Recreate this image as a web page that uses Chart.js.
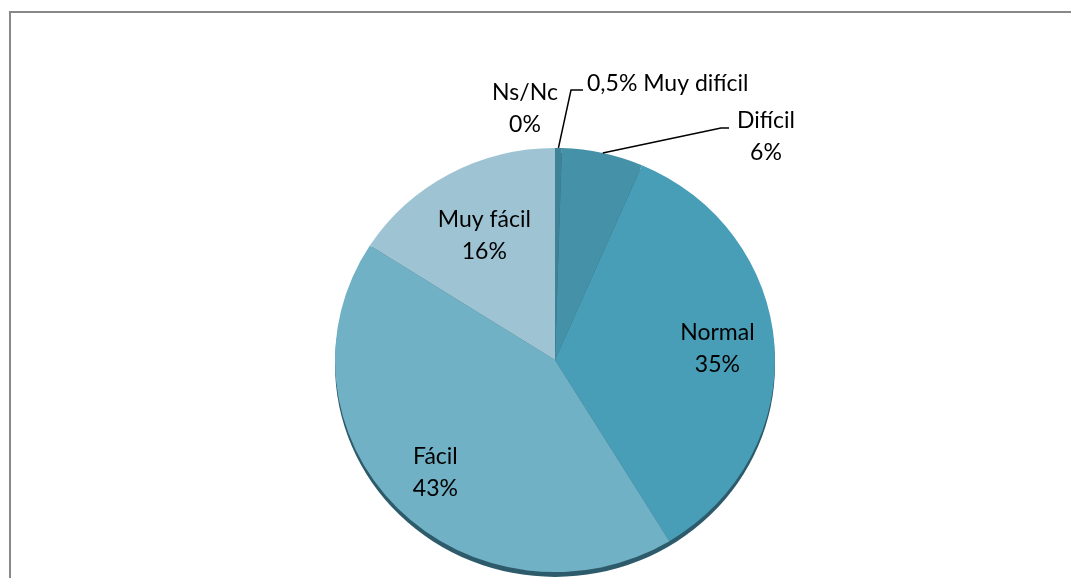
<!DOCTYPE html>
<html>
<head>
<meta charset="utf-8">
<script src="https://cdn.jsdelivr.net/npm/chart.js@4.4.1/dist/chart.umd.min.js"></script>
<style>
  html, body { margin: 0; padding: 0; background: #fff; overflow: hidden; }
  #wrap { position: relative; width: 1071px; height: 578px; overflow: hidden; }
  #frame {
    position: absolute; left: 9px; top: 11px; width: 1100px; height: 600px;
    border-left: 2px solid #888; border-top: 2px solid #888;
  }
  #myChart { position: absolute; left: 0; top: 0; }
</style>
</head>
<body>
<div id="wrap">
  <div id="frame"></div>
  <canvas id="myChart" width="1071" height="600"></canvas>
</div>
<script>
// respuestas, en orden horario desde arriba
const categorias = ['Muy difícil', 'Difícil', 'Normal', 'Fácil', 'Muy fácil', 'Ns/Nc'];
const porcentajes = [0.5, 6, 35, 43, 16, 0];
const etiquetas = ['0,5%', '6%', '35%', '43%', '16%', '0%'];
const colores = ['#3e8298', '#4591a8', '#489db7', '#71b1c6', '#9ec4d3', '#9ec4d3'];

// la tarta se ve un poco aplastada
const aplastado = 0.964;
const fuente = '23px Lato';

// donde va cada etiqueta: dentro (fraccion del radio) o fuera con linea guia
const posEtiquetas = [
  { tipo: 'linea', codo: [571, 90], fin: [583, 90], texto: [587, 84], alinear: 'left', unaLinea: true },
  { tipo: 'linea', codo: [721, 128], fin: [729, 128], texto: [766, 121], alinear: 'center' },
  { tipo: 'dentro', r: 0.74 },
  { tipo: 'dentro', r: 0.76 },
  { tipo: 'dentro', r: 0.67 },
  { tipo: 'fuera', texto: [525, 93] }
];

const ySquash = (cy, y) => cy + (y - cy) * aplastado;

const tartaPlugin = {
  id: 'tarta',
  beforeDatasetsDraw(chart) {
    const ctx = chart.ctx;
    const arc = chart.getDatasetMeta(0).data[0];
    ctx.save();
    ctx.translate(0, arc.y);
    ctx.scale(1, aplastado);
    ctx.translate(0, -arc.y);
    // borde oscuro por debajo
    ctx.fillStyle = '#2d5b6b';
    ctx.beginPath();
    ctx.arc(arc.x, arc.y + 5, arc.outerRadius, 0, Math.PI * 2);
    ctx.fill();
  },
  afterDatasetsDraw(chart) {
    chart.ctx.restore();
  },
  afterDraw(chart) {
    const ctx = chart.ctx;
    const arcs = chart.getDatasetMeta(0).data;
    ctx.save();
    ctx.font = fuente;
    ctx.fillStyle = '#000';
    ctx.textBaseline = 'middle';
    arcs.forEach((a, i) => {
      const p = posEtiquetas[i];
      const mid = (a.startAngle + a.endAngle) / 2;
      if (p.tipo === 'dentro') {
        const x = a.x + Math.cos(mid) * a.outerRadius * p.r;
        const y = ySquash(a.y, a.y + Math.sin(mid) * a.outerRadius * p.r);
        ctx.textAlign = 'center';
        ctx.fillText(categorias[i], x, y - 16);
        ctx.fillText(etiquetas[i], x, y + 16);
        return;
      }
      if (p.tipo === 'linea') {
        const x0 = a.x + Math.cos(mid) * a.outerRadius;
        const y0 = ySquash(a.y, a.y + Math.sin(mid) * a.outerRadius);
        ctx.strokeStyle = '#000';
        ctx.lineWidth = 1.5;
        ctx.beginPath();
        ctx.moveTo(x0, y0);
        ctx.lineTo(p.codo[0], p.codo[1]);
        ctx.lineTo(p.fin[0], p.fin[1]);
        ctx.stroke();
      }
      ctx.textAlign = p.alinear || 'center';
      if (p.unaLinea) {
        ctx.fillText(etiquetas[i] + ' ' + categorias[i], p.texto[0], p.texto[1]);
      } else {
        ctx.fillText(categorias[i], p.texto[0], p.texto[1]);
        ctx.fillText(etiquetas[i], p.texto[0], p.texto[1] + 32);
      }
    });
    ctx.restore();
  }
};

const ctx = document.getElementById('myChart');

let chart = new Chart(ctx, {
  type: 'pie',
  data: {
    labels: categorias,
    datasets: [{
      data: porcentajes,
      backgroundColor: colores,
      borderWidth: 0
    }]
  },
  options: {
    responsive: false,
    animation: false,
    layout: { padding: { top: 140, bottom: 20, left: 335, right: 296 } },
    plugins: {
      legend: { display: false },
      tooltip: { enabled: false }
    }
  },
  plugins: [tartaPlugin]
});
</script>
</body>
</html>
